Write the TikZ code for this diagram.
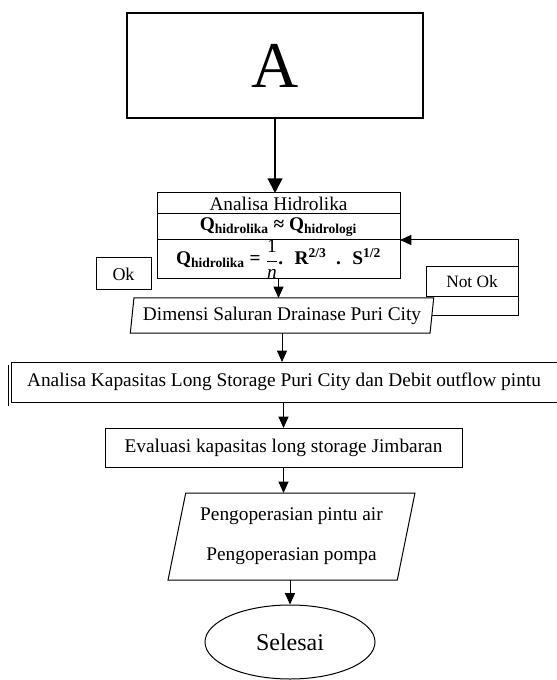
\documentclass[tikz,border=0pt]{standalone}
\usepackage{amsmath}
\usepackage{fontspec}
\setmainfont{Liberation Serif}
\usetikzlibrary{arrows.meta,positioning,shapes.geometric}

\tikzset{
  blok/.style={draw,rectangle,inner sep=0pt,outer sep=0pt,line width=0.75pt,align=center,font=\fontsize{14.5}{17}\selectfont},
  miring/.style={draw,trapezium,trapezium stretches=true,inner sep=0pt,outer sep=0pt,line width=0.75pt,align=center,font=\fontsize{14.5}{17}\selectfont},
  panah/.style={-{Triangle[width=7.5pt,length=8.5pt]},line width=0.75pt},
}

\begin{document}
\begin{tikzpicture}[x=0.75pt,y=-0.75pt]
  \useasboundingbox (0,0) rectangle (556,680);
  % awal
  \node[blok,line width=1.5pt,minimum width=222pt,minimum height=78.75pt,font=\fontsize{49}{50}\selectfont] (A) at (275,65.5) {A};
  % analisa hidrolika
  \node[blok,minimum width=182.25pt,minimum height=15.75pt] (hidA) at (278.5,203.5) {Analisa Hidrolika};
  \node[blok,minimum width=182.25pt,minimum height=19.5pt,below=0pt of hidA] (hidB)
    {\textbf{Q\textsubscript{hidrolika} ≈ Q\textsubscript{hidrologi}}};
  \node[blok,minimum width=182.25pt,minimum height=25.5pt,below=0pt of hidB] (hidC)
    {\textbf{Q\textsubscript{hidrolika} = \raisebox{-1pt}{$\dfrac{\textnormal{1}}{\textnormal{\textit{n}}}$}. \ R\textsuperscript{2/3} \ . \ S\textsuperscript{1/2}}};
  \node[blok,minimum width=41.25pt,minimum height=24pt,font=\fontsize{13.5}{15}\selectfont] (ok) at (123.5,274) {Ok};
  \node[blok,minimum width=69pt,minimum height=22.5pt,font=\fontsize{13}{15}\selectfont] (notok) at (472,282) {Not Ok};
  \node[miring,trapezium left angle=79,trapezium right angle=101,minimum width=228pt,minimum height=26.25pt] (dim) at (282,315.5) {Dimensi Saluran Drainase Puri City};
  % long storage
  \node[blok,minimum width=409.5pt,minimum height=30pt] (kap) at (284,382) {Analisa Kapasitas Long Storage Puri City dan Debit outflow pintu};
  \draw[line width=0.75pt] (8,365) -- (8,406);
  \node[blok,minimum width=267.75pt,minimum height=29.25pt] (eva) at (283.5,447.5) {Evaluasi kapasitas long storage Jimbaran};
  \node[miring,trapezium left angle=75,trapezium right angle=105,minimum width=185.25pt,minimum height=65.25pt] (op) at (291.5,536.5)
    {Pengoperasian pintu air\\[13pt]Pengoperasian pompa};
  \node[draw,ellipse,line width=0.75pt,inner sep=0pt,minimum width=127.5pt,minimum height=55.5pt,font=\fontsize{18}{20}\selectfont] (selesai) at (290,642) {Selesai};

  % panah
  \draw[line width=1.5pt,-{Triangle[width=11pt,length=11pt]}] (A.south) -- (A.south |- hidA.north);
  \draw[panah] (hidC.south) -- (hidC.south |- dim.north);
  \draw[panah] (dim.south) -- (dim.south |- kap.north);
  \draw[panah] (eva.north |- kap.south) -- (eva.north);
  \draw[panah] (eva.south) -- (eva.south |- op.north);
  \draw[panah] (selesai.north |- op.south) -- (selesai.north);
  \draw[panah] (dim.east) -- (dim.east -| notok.east) |- (hidC.north east);
\end{tikzpicture}
\end{document}
